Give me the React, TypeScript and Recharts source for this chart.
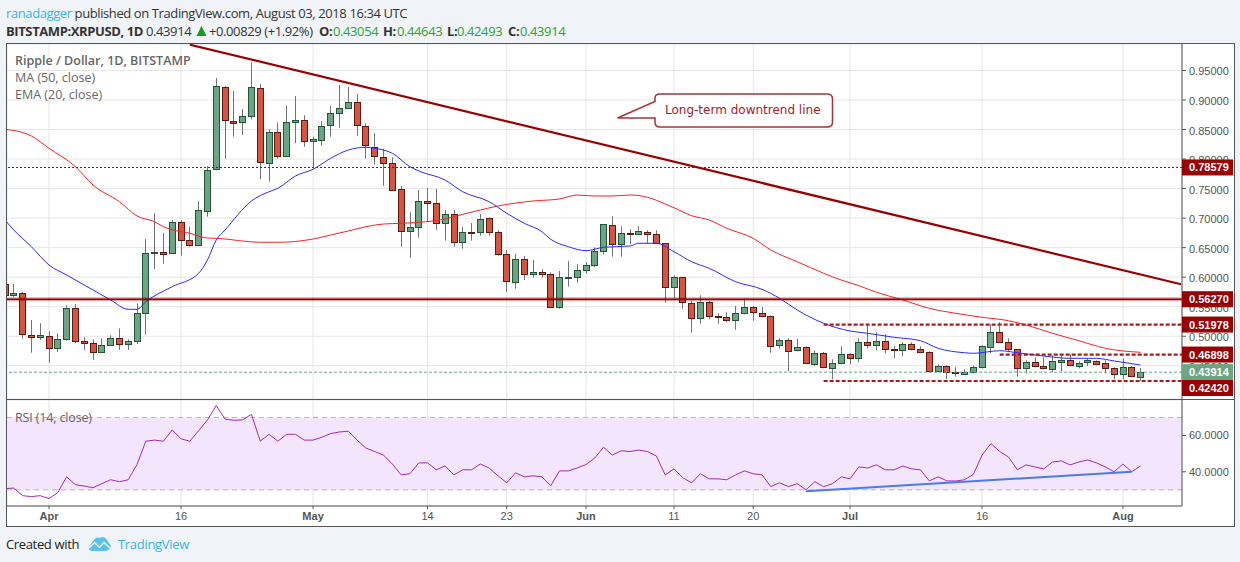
import React from "react";
import {
  Bar,
  CartesianGrid,
  ComposedChart,
  Line,
  ReferenceArea,
  ReferenceLine,
  XAxis,
  YAxis,
} from "recharts";

// day numbers count from Apr 1 2018 = 0
const firstDay = -5;

// open, high, low, close per day
const ohlc = [
  [0.5885, 0.5952, 0.5647, 0.5698], [0.5703, 0.5885, 0.5669, 0.5737], [0.5727, 0.5749, 0.4958, 0.5033],
  [0.5016, 0.5275, 0.4721, 0.4982], [0.4982, 0.5219, 0.4936, 0.5016], [0.5009, 0.5084, 0.4552, 0.4796],
  [0.4796, 0.505, 0.4738, 0.4948], [0.4948, 0.5524, 0.4924, 0.5473], [0.5473, 0.5546, 0.488, 0.4914],
  [0.4914, 0.4982, 0.4767, 0.4891], [0.4891, 0.4948, 0.4598, 0.4728], [0.4728, 0.4965, 0.4721, 0.4847],
  [0.4847, 0.5016, 0.4835, 0.4965], [0.4965, 0.5134, 0.4767, 0.4864], [0.4864, 0.4948, 0.4767, 0.4914],
  [0.4914, 0.5558, 0.4869, 0.5399], [0.5388, 0.6646, 0.5038, 0.6404], [0.641, 0.7082, 0.6139, 0.6426],
  [0.6421, 0.6748, 0.6228, 0.6398], [0.6404, 0.6968, 0.6398, 0.6929], [0.6939, 0.6968, 0.6364, 0.6624],
  [0.6624, 0.6855, 0.6516, 0.654], [0.654, 0.7285, 0.653, 0.7132], [0.7126, 0.7882, 0.7024, 0.781],
  [0.7827, 0.9373, 0.781, 0.9232], [0.9215, 0.9237, 0.8006, 0.8656], [0.8639, 0.9152, 0.8379, 0.8605],
  [0.8622, 0.8848, 0.8407, 0.8724], [0.8724, 0.9638, 0.8673, 0.9215], [0.9198, 0.9271, 0.7657, 0.7945],
  [0.7928, 0.8504, 0.7617, 0.8453], [0.8453, 0.8622, 0.8006, 0.8047], [0.8047, 0.8898, 0.804, 0.8622],
  [0.8622, 0.9068, 0.8267, 0.8656], [0.8656, 0.8741, 0.8209, 0.8301], [0.8301, 0.8379, 0.7844, 0.8335],
  [0.8318, 0.8644, 0.8226, 0.8555], [0.8572, 0.8898, 0.8379, 0.8775], [0.8775, 0.9254, 0.8531, 0.8859],
  [0.8859, 0.922, 0.8855, 0.8961], [0.8961, 0.9102, 0.8396, 0.8572], [0.8555, 0.8605, 0.8006, 0.8233],
  [0.8209, 0.8441, 0.7904, 0.8047], [0.803, 0.8175, 0.7549, 0.7928], [0.7928, 0.803, 0.7471, 0.7471],
  [0.7488, 0.7544, 0.6516, 0.6777], [0.6777, 0.7099, 0.633, 0.6845], [0.6845, 0.7476, 0.6668, 0.7285],
  [0.7285, 0.751, 0.6939, 0.7261], [0.7251, 0.7493, 0.6799, 0.6912], [0.6912, 0.7137, 0.6618, 0.7065],
  [0.7065, 0.7137, 0.6516, 0.6591], [0.6591, 0.685, 0.6482, 0.676], [0.676, 0.6917, 0.6618, 0.6743],
  [0.676, 0.707, 0.6702, 0.698], [0.6997, 0.7014, 0.6702, 0.676], [0.676, 0.6794, 0.6364, 0.6387],
  [0.6387, 0.646, 0.5754, 0.593], [0.5913, 0.6392, 0.5805, 0.6303], [0.6303, 0.6359, 0.5952, 0.6049],
  [0.6049, 0.6291, 0.5991, 0.6083], [0.6083, 0.6139, 0.5991, 0.6049], [0.6049, 0.6083, 0.549, 0.549],
  [0.549, 0.6105, 0.5466, 0.5998], [0.5991, 0.6274, 0.5839, 0.5998], [0.5998, 0.6223, 0.5907, 0.6116],
  [0.6116, 0.6252, 0.6059, 0.6201], [0.6201, 0.6506, 0.6167, 0.6438], [0.6438, 0.6895, 0.6381, 0.6895],
  [0.6878, 0.7031, 0.6347, 0.6557], [0.6557, 0.6862, 0.6347, 0.6743], [0.6743, 0.6811, 0.6562, 0.6726],
  [0.6726, 0.6862, 0.6726, 0.6777], [0.676, 0.6794, 0.6574, 0.6726], [0.6726, 0.6794, 0.6574, 0.6574],
  [0.6574, 0.6574, 0.5568, 0.5829], [0.5829, 0.6032, 0.5642, 0.5998], [0.5998, 0.5998, 0.5466, 0.5575],
  [0.5558, 0.5602, 0.506, 0.5304], [0.5304, 0.5693, 0.5212, 0.5575], [0.5575, 0.5602, 0.5287, 0.5338],
  [0.5338, 0.5388, 0.5212, 0.5321], [0.5321, 0.5405, 0.5236, 0.527], [0.527, 0.5512, 0.5111, 0.5388],
  [0.5388, 0.5642, 0.5371, 0.549], [0.549, 0.5512, 0.5263, 0.5405], [0.5388, 0.5495, 0.5321, 0.5338],
  [0.5338, 0.5355, 0.4721, 0.483], [0.4847, 0.4965, 0.4789, 0.4931], [0.4931, 0.4965, 0.4406, 0.4745],
  [0.4762, 0.4953, 0.4745, 0.4813], [0.4813, 0.483, 0.4542, 0.4542], [0.4525, 0.4762, 0.4501, 0.4711],
  [0.4711, 0.4733, 0.4457, 0.4474], [0.4457, 0.4609, 0.4271, 0.4542], [0.4542, 0.483, 0.4525, 0.4694],
  [0.4694, 0.4711, 0.4525, 0.4626], [0.4626, 0.4965, 0.4559, 0.4897], [0.4897, 0.5202, 0.4796, 0.4847],
  [0.4847, 0.5067, 0.4762, 0.4914], [0.4914, 0.5033, 0.4711, 0.4779], [0.4779, 0.483, 0.4626, 0.4762],
  [0.4762, 0.4897, 0.466, 0.4864], [0.4864, 0.4897, 0.4762, 0.4779], [0.4779, 0.483, 0.4711, 0.4728],
  [0.4728, 0.4745, 0.4417, 0.4417], [0.4417, 0.4525, 0.439, 0.4491], [0.4491, 0.4508, 0.4271, 0.439],
  [0.439, 0.4474, 0.4315, 0.4373], [0.4366, 0.444, 0.4356, 0.439], [0.439, 0.4508, 0.4378, 0.4474],
  [0.4474, 0.4847, 0.4457, 0.483], [0.4813, 0.5202, 0.4711, 0.5067], [0.5067, 0.5236, 0.4897, 0.4897],
  [0.4897, 0.4965, 0.4728, 0.4779], [0.4779, 0.4779, 0.4315, 0.4457], [0.4457, 0.4593, 0.4373, 0.4559],
  [0.4559, 0.4643, 0.4474, 0.4491], [0.4491, 0.4643, 0.444, 0.4457], [0.444, 0.4677, 0.439, 0.4576],
  [0.4559, 0.4677, 0.4406, 0.4593], [0.4593, 0.4694, 0.4491, 0.4508], [0.4491, 0.4576, 0.4457, 0.4542],
  [0.4559, 0.4626, 0.4496, 0.4593], [0.4576, 0.4593, 0.4508, 0.4525], [0.4542, 0.4593, 0.4373, 0.4457],
  [0.4457, 0.4474, 0.4271, 0.4356], [0.4356, 0.4626, 0.4271, 0.4474], [0.4474, 0.4491, 0.4315, 0.4322],
  [0.43054, 0.44643, 0.42493, 0.43914],
];

const maDays = [
  -5, -2, 0, 3, 5, 8, 10, 12, 13, 16, 18, 19, 24, 26, 30, 32, 34, 36, 38, 40, 42, 45, 47, 49, 51, 55, 58, 60,
  62, 64, 66, 68, 70, 71, 73, 75, 77, 80, 82, 85, 88, 90, 92, 94, 97, 100, 103, 106, 109, 111, 114, 117, 120, 124,
];
const maValues = [
  0.8504, 0.839, 0.8182, 0.7871, 0.7561, 0.7278, 0.7036, 0.6939, 0.6855, 0.6743, 0.6663, 0.6658, 0.6591, 0.6591,
  0.6646, 0.6714, 0.6782, 0.6855, 0.69, 0.6912, 0.6929, 0.6985, 0.7065, 0.7137, 0.7205, 0.729, 0.7324, 0.7391,
  0.7375, 0.7375, 0.7391, 0.7353, 0.7239, 0.7176, 0.7041, 0.6968, 0.6828, 0.6658, 0.646, 0.6262, 0.6066, 0.5952,
  0.5856, 0.5744, 0.5614, 0.5473, 0.5388, 0.5321, 0.5263, 0.519, 0.505, 0.4924, 0.4796, 0.4728,
];

const emaDays = [
  -5, -4, -2, 0, 2, 5, 7, 9, 10, 11, 14, 17, 18, 19, 20, 23, 25, 26, 28, 30, 32, 34, 36, 37, 39, 41, 42, 45, 47,
  50, 52, 54, 56, 57, 59, 61, 63, 66, 67, 69, 71, 73, 75, 78, 81, 83, 85, 88, 91, 93, 96, 99, 101, 104, 105, 108,
  110, 113, 116, 119, 121, 124,
];
const emaValues = [
  0.6968, 0.6799, 0.6516, 0.6206, 0.6037, 0.5783, 0.5614, 0.5456, 0.5456, 0.5585, 0.5839, 0.6066, 0.6291, 0.6629,
  0.6799, 0.729, 0.7447, 0.7505, 0.7713, 0.7827, 0.8013, 0.8153, 0.8199, 0.8182, 0.8098, 0.7871, 0.7798, 0.7645,
  0.7447, 0.7278, 0.7082, 0.6912, 0.677, 0.6641, 0.6516, 0.6449, 0.6506, 0.6528, 0.6574, 0.6574, 0.6431, 0.6262,
  0.615, 0.5923, 0.5795, 0.5642, 0.5444, 0.5219, 0.5089, 0.505, 0.4982, 0.4924, 0.4796, 0.4721, 0.4711, 0.4755,
  0.4721, 0.4665, 0.4626, 0.4626, 0.4581, 0.4513,
];

const rsiValues = [
  30.7, 31.0, 26.8, 26.3, 26.8, 25.2, 28.5, 37.2, 32.9, 32.1, 31.2, 33.4, 35.6, 34.5, 35.6, 44.0, 56.9, 57.5, 56.9,
  63.1, 58.2, 56.9, 62.7, 68.6, 76.6, 69.1, 68.4, 68.7, 71.7, 56.9, 60.7, 56.9, 60.7, 60.7, 57.5, 57.5, 59.1, 61.1,
  62.0, 62.4, 57.5, 53.1, 51.2, 49.2, 44.3, 38.3, 38.9, 44.9, 44.9, 41.1, 43.2, 38.3, 41.1, 41.1, 44.3, 42.1, 37.8,
  33.9, 39.4, 37.2, 37.8, 37.2, 32.3, 40.5, 40.5, 42.1, 44.0, 47.6, 53.6, 49.2, 51.6, 51.2, 52.0, 51.2, 48.7, 38.3,
  41.6, 36.7, 33.9, 38.9, 36.1, 36.1, 35.6, 38.3, 40.5, 38.9, 38.3, 31.8, 33.9, 31.8, 33.4, 30.1, 34.5, 31.8, 33.4,
  37.2, 36.1, 42.7, 42.1, 43.8, 41.1, 41.1, 43.2, 41.6, 41.1, 35.0, 37.2, 35.0, 34.9, 35.6, 38.5, 49.2, 55.6, 51.2,
  48.2, 41.1, 43.8, 42.7, 41.6, 45.4, 46.0, 43.8, 45.4, 46.5, 44.9, 42.7, 40.0, 44.3, 40.0, 43.2,
];

const priceTicks = [0.4, 0.45, 0.5, 0.55, 0.6, 0.65, 0.7, 0.75, 0.8, 0.85, 0.9, 0.95];
const rsiTicks = [40, 60];
const dayTicks = [0, 15, 30, 43, 52, 61, 71, 80, 91, 106, 122];
const dayLabels = ["Apr", "16", "May", "14", "23", "Jun", "11", "20", "Jul", "16", "Aug"];

const downtrendDays = [16, 128.6];
const downtrendPrices = [0.9936, 0.588];
const rsiTrendDays = [86, 123];
const rsiTrendValues = [29.2, 40];

const candles = ohlc.map((r, i) => ({ day: firstDay + i, open: r[0], high: r[1], low: r[2], close: r[3], range: [r[2], r[1]] }));
const maRows = maDays.map((day, i) => ({ day, ma: maValues[i] }));
const emaRows = emaDays.map((day, i) => ({ day, ema: emaValues[i] }));
const rsiRows = rsiValues.map((rsi, i) => ({ day: firstDay + i, rsi }));

const dayDomain = [-4.77, 128.71];
const priceDomain = [0.39373, 0.99482];
const rsiDomain = [21.1, 79.65];

const axisFont = "'Liberation Sans', Arial, sans-serif";
const uiFont = "'Open Sans', sans-serif";
const darkRed = "#990000";
const axisGrey = "#555";

function Candle(props: any) {
  const { x, y, width, height, payload } = props;
  const up = payload.close >= payload.open;
  const cx = Math.round(x + width / 2) + 0.5;
  const span = payload.high - payload.low || 1;
  const yOf = (v: number) => y + ((payload.high - v) / span) * height;
  const top = Math.round(yOf(Math.max(payload.open, payload.close))) + 0.5;
  const bottom = Math.round(yOf(Math.min(payload.open, payload.close))) + 0.5;
  return (
    <g>
      <line x1={cx} x2={cx} y1={y} y2={y + height} stroke="#737375" />
      <rect
        x={cx - 3}
        y={top}
        width={6}
        height={Math.max(bottom - top, 1)}
        fill={up ? "#6ba583" : "#d75442"}
        stroke={up ? "#225437" : "#5b1a13"}
      />
    </g>
  );
}

function PriceTag(props: any) {
  const { viewBox, text, fill = darkRed, shift = 0 } = props;
  const x = viewBox.x + viewBox.width;
  const y = viewBox.y + shift;
  return (
    <g>
      <rect x={x} y={y - 8} width={51} height={16} fill={fill} />
      <text x={x + 7} y={y + 4} fill="#fff" fontSize={11} fontWeight={700} fontFamily={axisFont}>
        {text}
      </text>
    </g>
  );
}

function PriceTick(props: any) {
  const { x, y, payload } = props;
  return (
    <text x={x} y={y + 5} fill={axisGrey} fontSize={11} fontFamily={axisFont}>
      {payload.value.toFixed(5)}
    </text>
  );
}

function DayTick(props: any) {
  const { x, y, payload } = props;
  const label = dayLabels[dayTicks.indexOf(payload.value)];
  const month = label.length > 2;
  return (
    <text x={x} y={y + 9} textAnchor="middle" fill={axisGrey} fontSize={11} fontWeight={month ? 700 : 400} fontFamily={axisFont}>
      {label}
    </text>
  );
}

const green = { color: "#2aa52a" };

function At(props: any) {
  return <span style={{ position: "absolute", left: props.x, top: 0, ...props.style }}>{props.children}</span>;
}

export default function App() {
  return (
    <div style={{ position: "fixed", left: 0, top: 0, width: 1240, height: 562, background: "#f0f3f8", overflow: "hidden", fontFamily: uiFont }}>
      <div style={{ position: "absolute", left: 6, top: 4, fontSize: 13, letterSpacing: -0.4, color: "#333", whiteSpace: "nowrap" }}>
        <span style={{ color: "#3bb3e4" }}>ranadagger</span> published on TradingView.com, August 03, 2018 16:34 UTC
      </div>
      <div style={{ position: "absolute", left: 0, top: 22, fontSize: 13, letterSpacing: -0.4, color: "#333", whiteSpace: "nowrap" }}>
        <At x={6} style={{ fontWeight: 700 }}>BITSTAMP:XRPUSD, 1D</At>
        <At x={146}>0.43914</At>
        <At x={195.5}>
          <svg width={11} height={18} style={{ display: "block" }}>
            <path d="M5.5 4 L10.5 14 H0.5 Z" fill="#1a9a1a" />
          </svg>
        </At>
        <At x={209}>+0.00829 (+1.92%)</At>
        <At x={319} style={{ fontWeight: 700 }}>O:</At>
        <At x={333} style={green}>0.43054</At>
        <At x={383} style={{ fontWeight: 700 }}>H:</At>
        <At x={397} style={green}>0.44643</At>
        <At x={447} style={{ fontWeight: 700 }}>L:</At>
        <At x={457} style={green}>0.42493</At>
        <At x={508} style={{ fontWeight: 700 }}>C:</At>
        <At x={520} style={green}>0.43914</At>
      </div>

      <div style={{ position: "absolute", left: 6, top: 43, width: 1227, height: 482, background: "#fff", border: `1px solid ${axisGrey}` }} />

      <div style={{ position: "absolute", left: 7, top: 44 }}>
        <ComposedChart width={1226} height={355} data={candles} margin={{ top: 0, right: 0, bottom: 0, left: 0 }}>
          <CartesianGrid stroke="#e6e6e6" />
          <XAxis dataKey="day" type="number" domain={dayDomain} ticks={dayTicks} allowDataOverflow hide />
          <YAxis
            orientation="right"
            width={51}
            domain={priceDomain}
            ticks={priceTicks}
            allowDataOverflow
            tick={<PriceTick />}
            tickSize={4}
            tickMargin={3}
            stroke={axisGrey}
          />
          <ReferenceLine y={0.78579} stroke={darkRed} strokeDasharray="2 2" />
          <ReferenceLine y={0.43914} stroke="#6ba583" strokeDasharray="3 2" />
          <Line data={maRows} dataKey="ma" type="monotone" stroke="#ff2020" dot={false} isAnimationActive={false} />
          <Line data={emaRows} dataKey="ema" type="monotone" stroke="#2a2aff" dot={false} isAnimationActive={false} />
          <Bar dataKey="range" barSize={6} shape={<Candle />} isAnimationActive={false} />
          <ReferenceLine y={0.5627} stroke={darkRed} strokeOpacity={0.35} strokeWidth={4} />
          <ReferenceLine y={0.5627} stroke={darkRed} strokeWidth={1.5} />
          <ReferenceLine
            segment={[{ x: downtrendDays[0], y: downtrendPrices[0] }, { x: downtrendDays[1], y: downtrendPrices[1] }]}
            stroke={darkRed}
            strokeWidth={2.2}
          />
          <ReferenceLine
            segment={[{ x: 88, y: 0.51978 }, { x: dayDomain[1], y: 0.51978 }]}
            stroke="#a81c1c"
            strokeWidth={2.2}
            strokeDasharray="4 2"
          />
          <ReferenceLine
            segment={[{ x: 108, y: 0.46898 }, { x: dayDomain[1], y: 0.46898 }]}
            stroke="#a81c1c"
            strokeWidth={2.2}
            strokeDasharray="4 2"
          />
          <ReferenceLine
            segment={[{ x: 88, y: 0.4242 }, { x: dayDomain[1], y: 0.4242 }]}
            stroke="#a81c1c"
            strokeWidth={2.2}
            strokeDasharray="4 2"
          />
        </ComposedChart>
      </div>

      {/* price tags sit in their own layer so the axis ticks stay underneath */}
      <div style={{ position: "absolute", left: 7, top: 44 }}>
        <ComposedChart width={1226} height={355} data={candles} margin={{ top: 0, right: 51, bottom: 0, left: 0 }}>
          <XAxis dataKey="day" type="number" domain={dayDomain} allowDataOverflow hide />
          <YAxis domain={priceDomain} allowDataOverflow hide />
          <ReferenceLine y={0.78579} stroke="none" label={<PriceTag text="0.78579" />} />
          <ReferenceLine y={0.5627} stroke="none" label={<PriceTag text="0.56270" />} />
          <ReferenceLine y={0.51978} stroke="none" label={<PriceTag text="0.51978" />} />
          <ReferenceLine y={0.46898} stroke="none" label={<PriceTag text="0.46898" />} />
          <ReferenceLine y={0.43914} stroke="none" label={<PriceTag text="0.43914" fill="#6ba583" />} />
          <ReferenceLine y={0.4242} stroke="none" label={<PriceTag text="0.42420" shift={7} />} />
        </ComposedChart>
      </div>

      <div style={{ position: "absolute", left: 6, top: 399, width: 1228, height: 1, background: axisGrey }} />

      <div style={{ position: "absolute", left: 7, top: 400 }}>
        <ComposedChart width={1226} height={125} data={rsiRows} margin={{ top: 0, right: 0, bottom: 0, left: 0 }}>
          <ReferenceArea y1={30} y2={70} fill="#f3e5fc" fillOpacity={1} stroke="none" />
          <CartesianGrid stroke="#e6e0ea" />
          <XAxis
            dataKey="day"
            type="number"
            height={19}
            domain={dayDomain}
            ticks={dayTicks}
            allowDataOverflow
            tick={<DayTick />}
            tickSize={3}
            stroke={axisGrey}
          />
          <YAxis
            orientation="right"
            width={51}
            domain={rsiDomain}
            ticks={rsiTicks}
            allowDataOverflow
            tickFormatter={(v: number) => v.toFixed(4)}
            tick={{ fontSize: 11, fill: axisGrey, fontFamily: axisFont }}
            tickSize={4}
            tickMargin={3}
            stroke={axisGrey}
          />
          <ReferenceLine y={70} stroke="#bdb2c4" strokeDasharray="5 4" />
          <ReferenceLine y={30} stroke="#bdb2c4" strokeDasharray="5 4" />
          <Line dataKey="rsi" stroke="#a32bb8" dot={false} isAnimationActive={false} />
          <ReferenceLine
            segment={[{ x: rsiTrendDays[0], y: rsiTrendValues[0] }, { x: rsiTrendDays[1], y: rsiTrendValues[1] }]}
            stroke="#4a7be6"
            strokeWidth={2}
          />
        </ComposedChart>
      </div>

      <div style={{ position: "absolute", left: 15, top: 52, color: "#666", fontSize: 12.5, lineHeight: "17px", whiteSpace: "nowrap" }}>
        <div style={{ fontWeight: 600 }}>Ripple / Dollar, 1D, BITSTAMP</div>
        <div>MA (50, close)</div>
        <div>EMA (20, close)</div>
      </div>
      <div style={{ position: "absolute", left: 15, top: 409, color: "#666", fontSize: 12.5, letterSpacing: -0.15, lineHeight: "17px" }}>RSI (14, close)</div>

      <svg style={{ position: "absolute", left: 0, top: 0 }} width={1240} height={562}>
        <path
          d="M655 101.5 V98 Q655 94 660 94 H827 Q832.5 94 832.5 99 V122 Q832.5 127 827 127 H660 Q655 127 655 122 V118 H617.5 Z"
          fill="#fff"
          stroke="#a8333d"
          strokeWidth={1.5}
        />
        <text x={665} y={113.5} fill="#a8182a" fontSize={12} fontFamily="'DejaVu Sans', sans-serif">
          Long-term downtrend line
        </text>
        <path
          d="M88 548 L93 541 Q96 536 100 538 Q104 535 107 540 L111 546 Q110 551 104 551 L93 551 Q89 551 88 548 Z"
          fill="#59c1ea"
        />
        <path d="M88 549 L94.5 542.5 L99.5 547.5 L104 542.5 L111 549" fill="none" stroke="#f0f3f8" strokeWidth={1.5} />
      </svg>

      <div style={{ position: "absolute", left: 6, top: 535, fontSize: 13, letterSpacing: -0.35, color: "#222", whiteSpace: "nowrap" }}>Created with</div>
      <div style={{ position: "absolute", left: 118, top: 535, fontSize: 13, letterSpacing: -0.3, color: "#3bb3e4", whiteSpace: "nowrap" }}>TradingView</div>
    </div>
  );
}
